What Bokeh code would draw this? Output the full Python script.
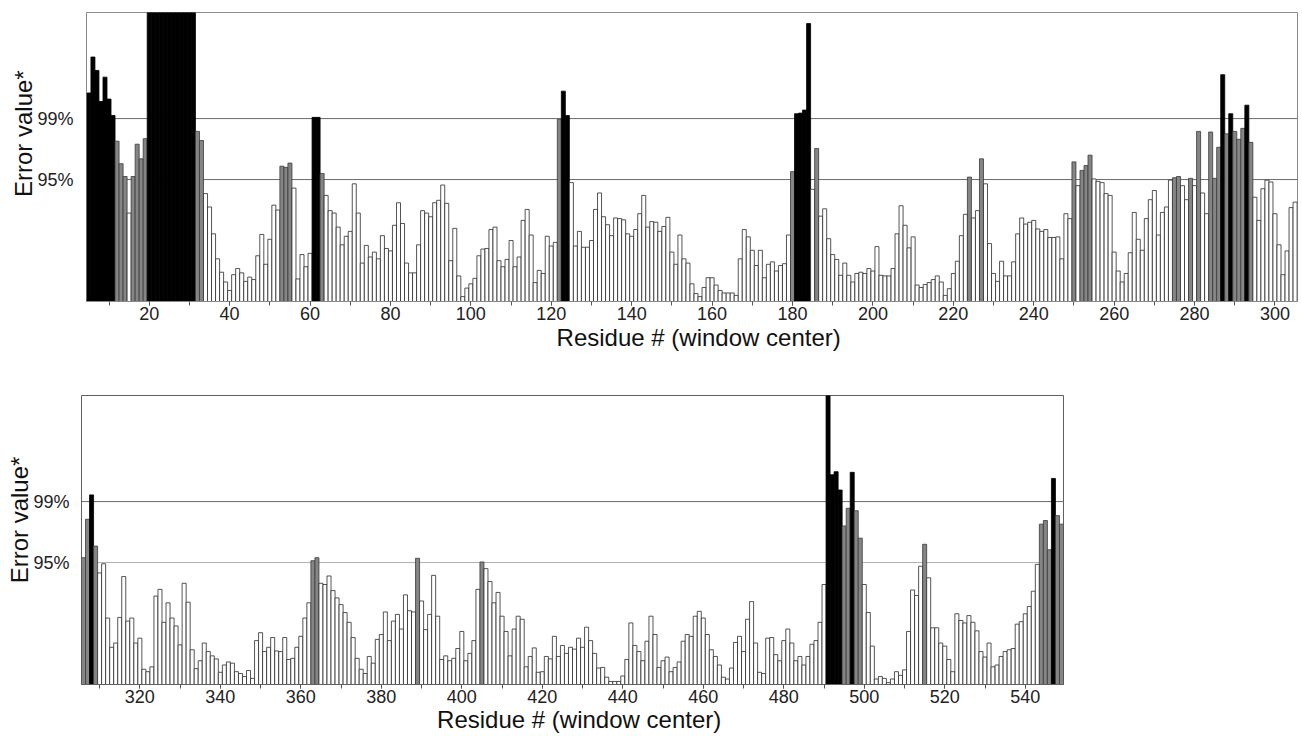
from bokeh.plotting import figure
from bokeh.models import FixedTicker, Span, ColumnDataSource, Range1d
from bokeh.embed import file_html
from bokeh.resources import INLINE

# ---------------- data ----------------
# y units: 0 = baseline, 2 = 95% threshold, 3 = 99% threshold
threshold_ticks = [2, 3]
threshold_labels = ["95%", "99%"]

top_first_residue = 5
top_values = [
    3.42, 4.01, 3.79, 3.28, 3.68,
    3.32, 3.05, 2.63, 2.26, 2.05, 1.45, 2.05, 2.58, 2.34, 2.67,
    6.0, 6.0, 6.0, 6.0, 6.0, 6.0, 6.0, 6.0, 6.0, 6.0,
    6.0, 6.0, 2.79, 2.64, 1.77, 1.55, 1.11, 0.70, 0.48, 0.32,
    0.18, 0.44, 0.54, 0.47, 0.33, 0.40, 0.36, 0.75, 1.10, 0.61,
    1.02, 1.58, 1.50, 2.22, 2.20, 2.27, 1.86, 0.37, 0.77, 0.57,
    0.79, 3.02, 3.02, 2.10, 1.74, 1.49, 1.45, 1.22, 0.93, 1.07,
    1.15, 1.93, 1.45, 0.63, 0.92, 0.73, 0.81, 0.70, 1.08, 0.87,
    0.83, 1.25, 1.62, 1.28, 0.63, 0.47, 0.47, 0.93, 1.49, 1.45,
    1.39, 1.62, 1.66, 1.91, 1.61, 0.67, 1.20, 0.42, 0.08, 0.22,
    0.29, 0.38, 0.75, 0.86, 0.87, 1.18, 1.22, 0.67, 0.57, 0.69,
    1.00, 0.57, 0.73, 1.33, 1.51, 1.09, 0.31, 0.51, 0.46, 1.07,
    0.91, 0.97, 2.99, 3.45, 3.05, 1.95, 0.91, 1.15, 0.89, 0.89,
    1.00, 1.51, 1.78, 1.39, 1.26, 1.08, 1.37, 1.36, 1.34, 1.11,
    1.07, 1.18, 1.44, 1.74, 1.22, 1.31, 1.30, 1.15, 1.23, 1.38,
    0.81, 0.61, 1.09, 0.70, 0.63, 0.29, 0.13, 0.08, 0.23, 0.39,
    0.39, 0.27, 0.18, 0.14, 0.14, 0.14, 0.10, 0.70, 1.18, 1.06,
    0.84, 0.59, 0.84, 0.39, 0.61, 0.65, 0.50, 0.59, 0.62, 1.09,
    2.13, 3.08, 3.09, 3.14, 4.56, 1.84, 2.51, 1.40, 1.52, 1.03,
    0.77, 0.69, 0.43, 0.63, 0.43, 0.32, 0.46, 0.48, 0.46, 0.54,
    0.50, 0.90, 0.43, 0.42, 0.42, 0.54, 1.11, 1.57, 1.25, 0.88,
    1.06, 0.27, 0.23, 0.28, 0.31, 0.36, 0.42, 0.32, 0.10, 0.21,
    0.46, 0.66, 1.08, 1.43, 2.04, 1.37, 1.49, 2.34, 1.93, 0.95,
    0.46, 0.33, 0.66, 0.42, 0.42, 0.65, 1.11, 1.37, 1.27, 1.30,
    1.33, 1.19, 1.15, 1.18, 1.05, 1.05, 1.06, 0.70, 1.44, 1.36,
    2.29, 1.90, 2.15, 2.23, 2.40, 2.01, 1.97, 1.95, 1.77, 1.74,
    0.81, 0.50, 0.32, 0.46, 0.80, 1.46, 1.02, 0.84, 1.36, 1.67,
    1.82, 1.09, 1.46, 1.55, 1.99, 2.03, 2.05, 1.90, 1.67, 2.02,
    1.90, 2.79, 1.78, 1.44, 2.78, 2.02, 2.53, 3.72, 2.75, 3.08,
    2.79, 2.66, 2.84, 3.22, 2.61, 1.71, 1.33, 1.85, 1.99, 1.96,
    1.44, 0.93, 0.44, 0.83, 1.54, 1.63,
]
top_gray = [12, 13, 14, 16, 17, 18, 19, 32, 33, 53, 54, 55, 63, 122, 180, 186,
            224, 227, 250, 252, 253, 254, 275, 276, 279, 281, 284, 285, 286,
            288, 290, 291, 292, 294]
top_black = [5, 6, 7, 8, 9, 10, 11, 20, 21, 22, 23, 24, 25, 26, 27, 28, 29, 30,
             31, 61, 62, 123, 124, 181, 182, 183, 184, 287, 289, 293]
top_tick_labels = [20, 40, 60, 80, 100, 120, 140, 160, 180, 200, 220, 240, 260, 280, 300]
top_minor_ticks = [10, 20, 30, 40, 50, 60, 70, 80, 90, 100, 110, 120, 130, 140, 150,
                   160, 170, 180, 190, 200, 210, 220, 230, 240, 250, 260, 270, 280,
                   290, 300]

bottom_first_residue = 306
bottom_values = [
    2.08, 2.71, 3.11, 2.27,
    1.83, 1.98, 1.09, 0.61, 0.68, 1.10, 1.77, 1.04, 1.09, 0.68,
    0.76, 0.25, 0.21, 0.29, 1.45, 1.56, 1.02, 1.34, 1.09, 0.96,
    0.65, 1.66, 1.35, 0.57, 0.26, 0.39, 0.68, 0.54, 0.47, 0.42,
    0.20, 0.32, 0.37, 0.35, 0.21, 0.18, 0.13, 0.23, 0.10, 0.72,
    0.85, 0.54, 0.61, 0.77, 0.55, 0.54, 0.77, 0.41, 0.43, 0.61,
    0.79, 1.09, 1.34, 2.03, 2.08, 1.66, 1.64, 1.78, 1.54, 1.42,
    1.31, 1.18, 1.02, 0.77, 0.43, 0.25, 0.18, 0.46, 0.35, 0.74,
    0.82, 1.19, 0.72, 1.04, 1.15, 0.91, 1.47, 1.21, 1.19, 2.07,
    1.37, 0.90, 1.15, 1.79, 1.12, 0.41, 0.47, 0.39, 0.43, 0.59,
    0.87, 0.39, 0.51, 0.72, 1.56, 2.01, 1.90, 1.69, 1.34, 1.51,
    1.12, 0.87, 0.47, 0.91, 1.12, 1.07, 0.29, 0.46, 0.60, 0.20,
    0.21, 0.46, 0.42, 0.79, 0.46, 0.64, 0.51, 0.61, 0.58, 0.76,
    0.61, 0.94, 0.72, 0.51, 0.27, 0.28, 0.12, 0.05, 0.05, 0.05,
    0.14, 0.41, 1.01, 0.64, 0.54, 0.39, 0.71, 1.12, 0.82, 0.28,
    0.39, 0.45, 0.21, 0.28, 0.37, 0.71, 0.82, 0.79, 1.12, 1.20,
    1.09, 0.82, 0.57, 0.46, 0.32, 0.12, 0.09, 0.27, 0.69, 0.79,
    0.54, 1.07, 1.36, 0.68, 0.20, 0.18, 0.76, 0.77, 0.49, 0.39,
    0.72, 0.91, 0.68, 0.39, 0.46, 0.32, 0.46, 0.66, 0.72, 1.02,
    1.64, 5.00, 3.44, 3.49, 3.19, 2.60, 2.89, 3.48, 2.85, 2.40,
    1.64, 1.18, 0.63, 0.09, 0.13, 0.10, 0.03, 0.09, 0.21, 0.15,
    0.24, 0.87, 1.55, 1.46, 1.94, 2.30, 1.75, 0.93, 0.93, 0.68,
    0.63, 0.41, 0.21, 1.16, 1.05, 1.01, 1.13, 1.02, 0.88, 0.54,
    0.45, 0.68, 0.29, 0.32, 0.46, 0.54, 0.57, 0.59, 0.99, 1.03,
    1.16, 1.28, 1.53, 1.97, 2.63, 2.69, 2.21, 3.38, 2.77, 2.63,
]
bottom_gray = [306, 307, 309, 363, 364, 389, 405, 495, 496, 498, 499, 515, 544,
               545, 546, 548, 549]
bottom_black = [308, 491, 492, 493, 494, 497, 547]
bottom_tick_labels = [320, 340, 360, 380, 400, 420, 440, 460, 480, 500, 520, 540]
bottom_minor_ticks = [310, 320, 330, 340, 350, 360, 370, 380, 390, 400, 410, 420,
                      430, 440, 450, 460, 470, 480, 490, 500, 510, 520, 530, 540]

FONT = "Liberation Sans"
NB = "\u00a0"


def panel(first, values, gray, black, xr, major, minor, width, height,
          bl, br, bt, bb, ytick_standoff, ylab_standoff, ylab_pad, xlab_standoff,
          grid95_color, frame_color):
    residues = list(range(first, first + len(values)))
    fills, lines = [], []
    for r in residues:
        if r in black:
            fills.append("#000000"); lines.append("#000000")
        elif r in gray:
            fills.append("#858585"); lines.append("#3a3a3a")
        else:
            fills.append("#ffffff"); lines.append("#2a2a2a")
    src = ColumnDataSource(dict(x=residues, top=values, fill=fills, line=lines))

    p = figure(width=width, height=height, x_range=Range1d(*xr),
               y_range=Range1d(0, 4.74), output_backend="svg",
               toolbar_location=None, min_border_left=bl, min_border_right=br,
               min_border_top=bt, min_border_bottom=bb)
    p.xgrid.visible = False
    p.ygrid.visible = False
    p.outline_line_color = frame_color
    p.outline_line_width = 1
    p.background_fill_color = "white"
    p.border_fill_color = "white"

    p.add_layout(Span(location=3, dimension="width", line_color="#6a6a6a",
                      line_width=1, level="underlay"))
    p.add_layout(Span(location=2, dimension="width", line_color=grid95_color,
                      line_width=1, level="underlay"))

    p.vbar(x="x", top="top", bottom=0, width=1, source=src,
           fill_color="fill", line_color="line", line_width=0.8)

    xa = p.xaxis[0]
    xa.ticker = FixedTicker(ticks=major, minor_ticks=minor)
    xa.axis_line_color = frame_color
    xa.major_tick_line_color = "#555555"
    xa.minor_tick_line_color = "#555555"
    xa.major_tick_in = 0
    xa.major_tick_out = 4
    xa.minor_tick_in = 0
    xa.minor_tick_out = 4
    xa.major_label_standoff = 1
    xa.major_label_text_font = FONT
    xa.major_label_text_font_size = "18px"
    xa.major_label_text_color = "#222222"
    xa.axis_label = NB * 2 + "Residue # (window center)"
    xa.axis_label_text_font = FONT
    xa.axis_label_text_font_size = "24px"
    xa.axis_label_text_font_style = "normal"
    xa.axis_label_text_color = "#111111"
    xa.axis_label_standoff = xlab_standoff

    ya = p.yaxis[0]
    ya.ticker = FixedTicker(ticks=threshold_ticks)
    ya.major_label_overrides = {t: s for t, s in zip(threshold_ticks, threshold_labels)}
    ya.axis_line_color = None
    ya.major_tick_line_color = None
    ya.minor_tick_line_color = None
    ya.major_label_standoff = ytick_standoff
    ya.major_label_text_font = FONT
    ya.major_label_text_font_size = "18px"
    ya.major_label_text_color = "#222222"
    ya.axis_label = NB * ylab_pad + "Error value*"
    ya.axis_label_text_font = FONT
    ya.axis_label_text_font_size = "24px"
    ya.axis_label_text_font_style = "normal"
    ya.axis_label_text_color = "#111111"
    ya.axis_label_standoff = ylab_standoff
    return p


p_top = panel(top_first_residue, top_values, top_gray, top_black, (4.4, 305.6),
              top_tick_labels, top_minor_ticks, 1302, 358, 86, 5, 12, 57,
              7, -3, 7, 1, "#6a6a6a", "#8a8a8a")
p_bot = panel(bottom_first_residue, bottom_values, bottom_gray, bottom_black,
              (305.5, 549.5), bottom_tick_labels, bottom_minor_ticks, 1302, 378,
              81, 239, 37, 52, 6, -3, 6, 0, "#b0b0b0", "#606060")

# two independent roots so that the panels keep their own frame widths
open("out.html", "w").write(file_html([p_top, p_bot], INLINE))
